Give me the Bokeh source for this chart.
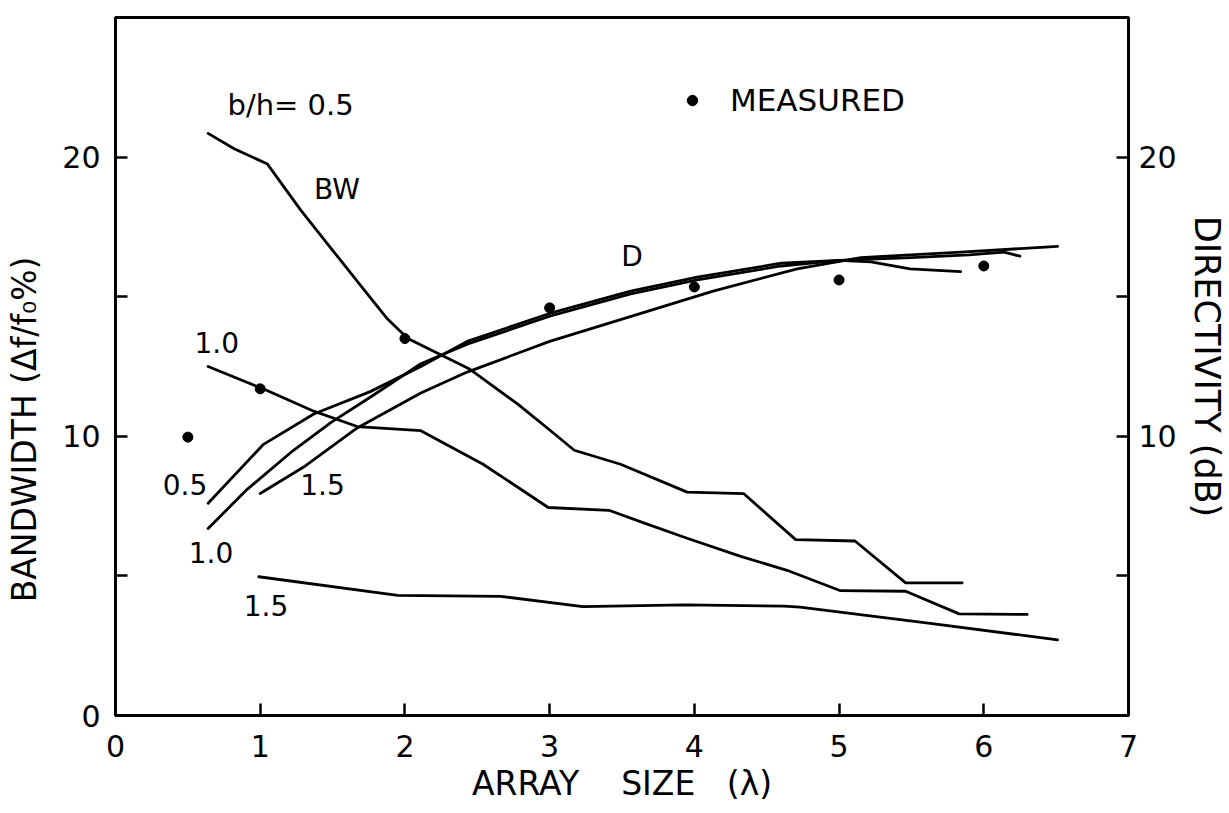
from bokeh.plotting import figure
from bokeh.models import Range1d, LinearAxis, FixedTicker, Label, Legend, LegendItem
from bokeh.embed import file_html
from bokeh.resources import INLINE

# ---- data ----
bw05_x = [0.64, 0.82, 1.05, 1.28, 1.51, 1.74, 1.88, 2.02, 2.45, 2.78, 3.03, 3.17, 3.49, 3.95, 4.34, 4.70, 5.11, 5.46, 5.85]
bw05_y = [20.85, 20.3, 19.75, 18.1, 16.6, 15.1, 14.2, 13.5, 12.4, 11.15, 10.1, 9.5, 9.0, 8.0, 7.95, 6.3, 6.25, 4.75, 4.75]

bw10_x = [0.64, 1.02, 1.37, 1.67, 2.11, 2.54, 2.99, 3.41, 3.65, 3.95, 4.32, 4.64, 5.01, 5.46, 5.83, 6.30]
bw10_y = [12.5, 11.7, 10.9, 10.35, 10.2, 9.0, 7.45, 7.35, 6.9, 6.35, 5.7, 5.2, 4.47, 4.45, 3.64, 3.62]

bw15_x = [0.99, 1.95, 2.66, 3.23, 3.93, 4.62, 4.73, 5.63, 6.51]
bw15_y = [4.97, 4.3, 4.27, 3.9, 3.96, 3.92, 3.88, 3.3, 2.71]

d05_x = [0.64, 1.02, 1.37, 1.76, 2.11, 2.43, 3.0, 3.56, 4.02, 4.6, 5.0, 5.22, 5.49, 5.84]
d05_y = [7.6, 9.7, 10.8, 11.6, 12.5, 13.4, 14.4, 15.2, 15.7, 16.2, 16.3, 16.25, 16.0, 15.9]

d10_x = [0.64, 0.91, 1.23, 1.49, 1.76, 2.11, 2.43, 3.0, 3.56, 4.02, 4.6, 5.0, 5.5, 5.9, 6.14, 6.25]
d10_y = [6.7, 8.1, 9.5, 10.5, 11.4, 12.6, 13.3, 14.3, 15.1, 15.6, 16.1, 16.3, 16.4, 16.5, 16.6, 16.45]

d15_x = [1.0, 1.30, 1.67, 2.11, 2.43, 3.0, 3.63, 4.13, 4.71, 5.15, 5.84, 6.51]
d15_y = [7.95, 8.9, 10.3, 11.55, 12.3, 13.4, 14.4, 15.2, 16.0, 16.4, 16.6, 16.8]

meas_x = [0.5, 1.0, 2.0, 3.0, 4.0, 5.0, 6.0]
meas_y = [9.97, 11.7, 13.5, 14.6, 15.35, 15.6, 16.1]

x_ticks = [0, 1, 2, 3, 4, 5, 6, 7]
y_ticks = [0, 5, 10, 15, 20]
y_labels = {0: "0", 5: "", 10: "10", 15: "", 20: "20"}
ry_ticks = [5, 10, 15, 20]
ry_labels = {5: "", 10: "10", 15: "", 20: "20"}

FONT = "DejaVu Sans"
NB = "\u00a0"

p = figure(width=1229, height=813, x_range=Range1d(0, 7), y_range=Range1d(0, 25),
           output_backend="svg", toolbar_location=None,
           min_border_left=115, min_border_right=101, min_border_top=17, min_border_bottom=98)
p.grid.visible = False
p.outline_line_color = "black"
p.outline_line_width = 3
p.background_fill_color = "white"
p.border_fill_color = "white"

right = LinearAxis()
p.add_layout(right, "right")


def style(ax, ticks, overrides, standoff, title, title_standoff, title_size):
    ax.ticker = FixedTicker(ticks=ticks)
    ax.major_label_overrides = overrides
    ax.major_tick_in = 12
    ax.major_tick_out = 0
    ax.minor_tick_line_color = None
    ax.axis_line_width = 3
    ax.major_tick_line_width = 2.5
    ax.major_label_text_font = FONT
    ax.major_label_text_font_size = "30px"
    ax.major_label_standoff = standoff
    ax.major_label_text_color = "black"
    ax.axis_label = title
    ax.axis_label_text_font = FONT
    ax.axis_label_text_font_size = title_size
    ax.axis_label_text_font_style = "normal"
    ax.axis_label_text_color = "black"
    ax.axis_label_standoff = title_standoff


style(p.xaxis[0], x_ticks, {t: str(t) for t in x_ticks}, 19,
      "ARRAY " + NB * 3 + "SIZE " + NB * 2 + "(λ)", 4, "33px")
style(p.yaxis[0], y_ticks, y_labels, 15, "BANDWIDTH (Δf/f₀%)" + NB * 12, 15, "33px")
style(right, ry_ticks, ry_labels, 10, "DIRECTIVITY (dB)", 7, "35px")

for xs, ys in [(bw05_x, bw05_y), (bw10_x, bw10_y), (bw15_x, bw15_y),
               (d05_x, d05_y), (d10_x, d10_y), (d15_x, d15_y)]:
    p.line(xs, ys, line_color="black", line_width=2.8, line_join="round", line_cap="round")

r_meas = p.scatter(meas_x, meas_y, size=10, color="black")

legend = Legend(items=[LegendItem(label="MEASURED", renderers=[r_meas])],
                location=(564, 597), border_line_color=None, background_fill_alpha=0,
                label_text_font=FONT, label_text_font_size="31px", label_text_color="black",
                glyph_width=26, glyph_height=26, label_standoff=25,
                padding=0, margin=0, spacing=0)
p.add_layout(legend)


def lab(x, y, text, size="28px", align="center"):
    p.add_layout(Label(x=x, y=y, text=text, text_font=FONT, text_font_size=size,
                       text_align=align, text_baseline="middle", text_color="black"))


lab(0.774, 21.86, "b/h= 0.5", size="29px", align="left")
lab(1.53, 18.85, "BW")
lab(0.70, 13.37, "1.0")
lab(3.57, 16.45, "D")
lab(0.48, 8.28, "0.5")
lab(0.66, 5.84, "1.0")
lab(1.43, 8.28, "1.5")
lab(1.04, 3.94, "1.5")

open("out.html", "w").write(file_html(p, INLINE))
